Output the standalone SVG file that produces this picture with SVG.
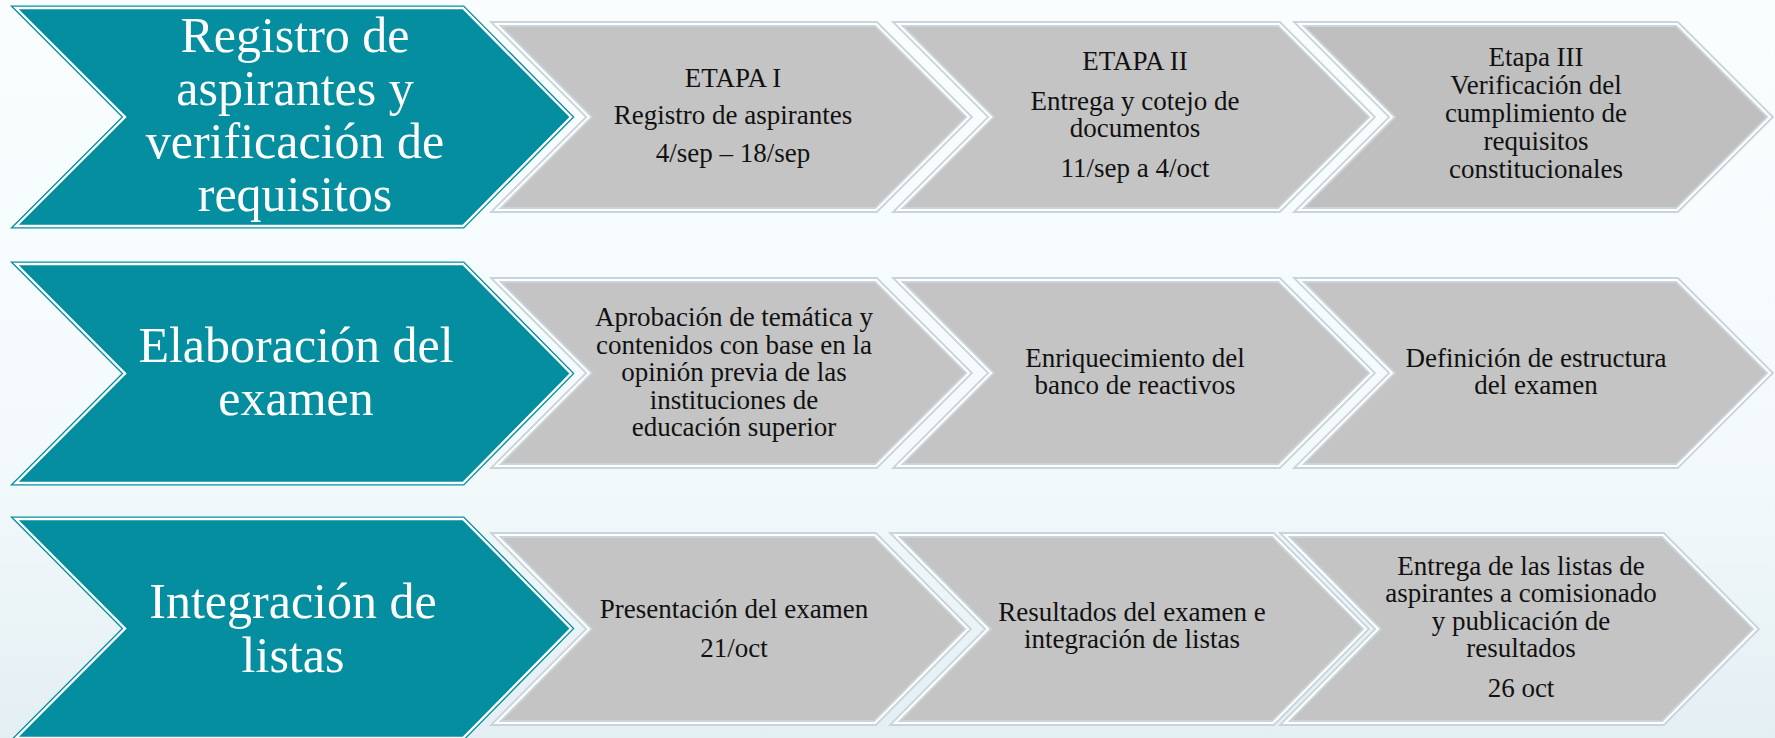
<svg xmlns="http://www.w3.org/2000/svg" width="1775" height="738" viewBox="0 0 1775 738">
<defs>
<linearGradient id="bg" x1="0" y1="0" x2="0" y2="1">
<stop offset="0" stop-color="#F9FDFE"/>
<stop offset="0.6" stop-color="#F4FAFC"/>
<stop offset="1" stop-color="#E4EFF3"/>
</linearGradient>
<style>
.teal{fill:#048E9F;stroke:#048E9F;stroke-width:5;stroke-linejoin:miter}
.tline{fill:none;stroke:#FFFFFF;stroke-width:2.4;stroke-linejoin:miter}
.gray{fill:#C4C4C4;stroke:#CAD4DB;stroke-width:6;stroke-linejoin:miter}
.gline{fill:none;stroke:#FFFFFF;stroke-width:2.2;stroke-linejoin:miter}
.tt{font-family:"Liberation Serif","Times New Roman",serif;font-size:50px;fill:#FFFFFF;text-anchor:middle}
.gt{font-family:"Liberation Serif","Times New Roman",serif;font-size:27px;fill:#111111;text-anchor:middle}
</style>
</defs>
<rect x="0" y="0" width="1775" height="738" fill="url(#bg)"/>

<!-- Row 1 -->
<g id="gray-r1-c1">
<polygon class="gray" points="496,24 876,24 969,117 876,210 496,210 589,117"/>
<polygon class="gline" points="496,24 876,24 969,117 876,210 496,210 589,117"/>
<text class="gt" x="733" y="87">ETAPA I</text>
<text class="gt" x="733" y="124">Registro de aspirantes</text>
<text class="gt" x="733" y="162">4/sep – 18/sep</text>
</g>
<g id="gray-r1-c2">
<polygon class="gray" points="898,24 1279,24 1372,117 1279,210 898,210 991,117"/>
<polygon class="gline" points="898,24 1279,24 1372,117 1279,210 898,210 991,117"/>
<text class="gt" x="1135" y="70">ETAPA II</text>
<text class="gt" x="1135" y="110">Entrega y cotejo de</text>
<text class="gt" x="1135" y="137">documentos</text>
<text class="gt" x="1135" y="177">11/sep a 4/oct</text>
</g>
<g id="gray-r1-c3">
<polygon class="gray" points="1299,24 1677,24 1770,117 1677,210 1299,210 1392,117" style="fill:#BFBFBF"/>
<polygon class="gline" points="1299,24 1677,24 1770,117 1677,210 1299,210 1392,117"/>
<text class="gt" x="1536" y="66">Etapa III</text>
<text class="gt" x="1536" y="94">Verificación del</text>
<text class="gt" x="1536" y="122">cumplimiento de</text>
<text class="gt" x="1536" y="150">requisitos</text>
<text class="gt" x="1536" y="178">constitucionales</text>
</g>
<g id="teal-r1">
<polygon class="teal" points="16,8 463,8 571,117 463,226 16,226 125,117"/>
<polygon class="tline" points="16,8 463,8 571,117 463,226 16,226 125,117"/>
<text class="tt" x="295" y="52">Registro de</text>
<text class="tt" x="295" y="105">aspirantes y</text>
<text class="tt" x="295" y="158">verificación de</text>
<text class="tt" x="295" y="211">requisitos</text>
</g>

<!-- Row 2 -->
<g id="gray-r2-c1">
<polygon class="gray" points="496,280 876,280 969,373 876,466 496,466 589,373"/>
<polygon class="gline" points="496,280 876,280 969,373 876,466 496,466 589,373"/>
<text class="gt" x="734" y="326">Aprobación de temática y</text>
<text class="gt" x="734" y="354">contenidos con base en la</text>
<text class="gt" x="734" y="381">opinión previa de las</text>
<text class="gt" x="734" y="409">instituciones de</text>
<text class="gt" x="734" y="436">educación superior</text>
</g>
<g id="gray-r2-c2">
<polygon class="gray" points="898,280 1279,280 1372,373 1279,466 898,466 991,373"/>
<polygon class="gline" points="898,280 1279,280 1372,373 1279,466 898,466 991,373"/>
<text class="gt" x="1135" y="367">Enriquecimiento del</text>
<text class="gt" x="1135" y="394">banco de reactivos</text>
</g>
<g id="gray-r2-c3">
<polygon class="gray" points="1299,280 1677,280 1770,373 1677,466 1299,466 1392,373"/>
<polygon class="gline" points="1299,280 1677,280 1770,373 1677,466 1299,466 1392,373"/>
<text class="gt" x="1536" y="367">Definición de estructura</text>
<text class="gt" x="1536" y="394">del examen</text>
</g>
<g id="teal-r2">
<polygon class="teal" points="16,264 463,264 571,373.5 463,483 16,483 125,373.5"/>
<polygon class="tline" points="16,264 463,264 571,373.5 463,483 16,483 125,373.5"/>
<text class="tt" x="296" y="362">Elaboración del</text>
<text class="tt" x="296" y="415">examen</text>
</g>

<!-- Row 3 -->
<g id="gray-r3-c1">
<polygon class="gray" points="496,535 875,535 968,629 875,723 496,723 589,629"/>
<polygon class="gline" points="496,535 875,535 968,629 875,723 496,723 589,629"/>
<text class="gt" x="734" y="618">Presentación del examen</text>
<text class="gt" x="734" y="657">21/oct</text>
</g>
<g id="gray-r3-c2">
<polygon class="gray" points="895,535 1273,535 1366,629 1273,723 895,723 988,629"/>
<polygon class="gline" points="895,535 1273,535 1366,629 1273,723 895,723 988,629"/>
<text class="gt" x="1132" y="621">Resultados del examen e</text>
<text class="gt" x="1132" y="648">integración de listas</text>
</g>
<g id="gray-r3-c3">
<polygon class="gray" points="1285,535 1663,535 1756,629 1663,723 1285,723 1378,629"/>
<polygon class="gline" points="1285,535 1663,535 1756,629 1663,723 1285,723 1378,629"/>
<text class="gt" x="1521" y="575">Entrega de las listas de</text>
<text class="gt" x="1521" y="602">aspirantes a comisionado</text>
<text class="gt" x="1521" y="630">y publicación de</text>
<text class="gt" x="1521" y="657">resultados</text>
<text class="gt" x="1521" y="697">26 oct</text>
</g>
<g id="teal-r3">
<polygon class="teal" points="16,519 463,519 571,628.5 463,738 16,738 125,628.5"/>
<polygon class="tline" points="16,519 463,519 571,628.5 463,738 16,738 125,628.5"/>
<text class="tt" x="293" y="618">Integración de</text>
<text class="tt" x="293" y="672">listas</text>
</g>

<g id="connectors"/>
</svg>
